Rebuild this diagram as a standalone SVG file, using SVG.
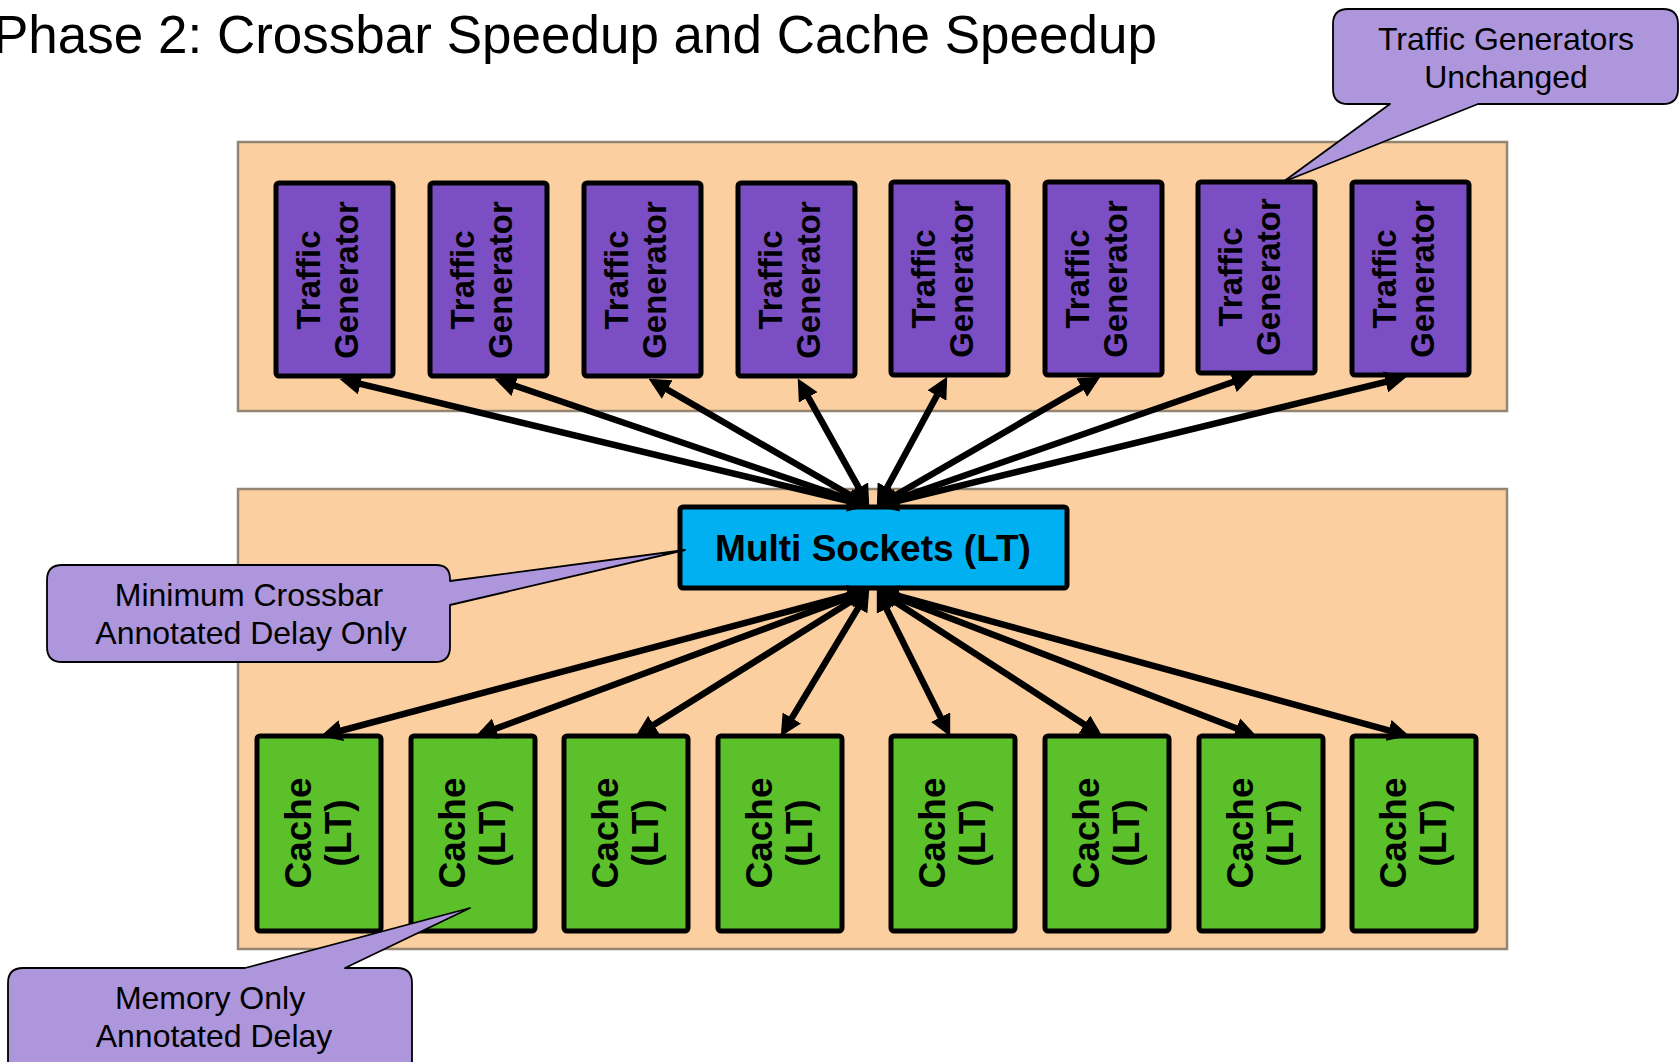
<svg xmlns="http://www.w3.org/2000/svg" width="1679" height="1062" viewBox="0 0 1679 1062">
  <defs>
    <marker id="head" viewBox="0 0 10 10" refX="7.0" refY="5" markerWidth="3.3" markerHeight="3.3" markerUnits="strokeWidth" orient="auto-start-reverse">
      <path d="M0,0 L10,5 L0,10 Z" fill="#000"/>
    </marker>
  </defs>
  <style>
    .title { font-family: "Liberation Sans", Arial, sans-serif; font-size: 53px; fill: #000; }
    .panel { fill: #FBCFA0; stroke: #948472; stroke-width: 2.5; }
    .tg rect { fill: #7B4FC3; stroke: #000; stroke-width: 5; }
    .cache rect { fill: #5BC02A; stroke: #000; stroke-width: 5; }
    .hub rect { fill: #00B0F0; stroke: #000; stroke-width: 5; }
    .lbl { font-family: "Liberation Sans", Arial, sans-serif; font-weight: bold; fill: #000; text-anchor: middle; }
    .tg .lbl { font-size: 33px; }
    .cache .lbl { font-size: 37px; }
    .hub .lbl { font-size: 37px; }
    .links line { stroke: #000; stroke-width: 6.5; marker-start: url(#head); marker-end: url(#head); }
    .note path { fill: #AD96DC; stroke: #000; stroke-width: 1.8; stroke-linejoin: round; }
    .note text { font-family: "Liberation Sans", Arial, sans-serif; font-size: 32px; fill: #000; text-anchor: middle; }
  </style>

  <rect width="1679" height="1062" fill="#fff"/>

  <text class="title" x="-7" y="53">Phase 2: Crossbar Speedup and Cache Speedup</text>

  <!-- background panels -->
  <rect class="panel" x="238" y="142" width="1269" height="269"/>
  <rect class="panel" x="238" y="489" width="1269" height="460"/>

  <!-- traffic generators -->
  <g id="tg1" class="tg"><rect x="276" y="183" width="117" height="193" rx="3"/>
    <text class="lbl" transform="translate(334.5,280) rotate(-90)"><tspan x="0" y="-15">Traffic</tspan><tspan x="0" y="23">Generator</tspan></text></g>
  <g id="tg2" class="tg"><rect x="430" y="183" width="117" height="193" rx="3"/>
    <text class="lbl" transform="translate(488.5,280) rotate(-90)"><tspan x="0" y="-15">Traffic</tspan><tspan x="0" y="23">Generator</tspan></text></g>
  <g id="tg3" class="tg"><rect x="584" y="183" width="117" height="193" rx="3"/>
    <text class="lbl" transform="translate(642.5,280) rotate(-90)"><tspan x="0" y="-15">Traffic</tspan><tspan x="0" y="23">Generator</tspan></text></g>
  <g id="tg4" class="tg"><rect x="738" y="183" width="117" height="193" rx="3"/>
    <text class="lbl" transform="translate(796.5,280) rotate(-90)"><tspan x="0" y="-15">Traffic</tspan><tspan x="0" y="23">Generator</tspan></text></g>
  <g id="tg5" class="tg"><rect x="891" y="182" width="117" height="193" rx="3"/>
    <text class="lbl" transform="translate(949.5,279) rotate(-90)"><tspan x="0" y="-15">Traffic</tspan><tspan x="0" y="23">Generator</tspan></text></g>
  <g id="tg6" class="tg"><rect x="1045" y="182" width="117" height="193" rx="3"/>
    <text class="lbl" transform="translate(1103.5,279) rotate(-90)"><tspan x="0" y="-15">Traffic</tspan><tspan x="0" y="23">Generator</tspan></text></g>
  <g id="tg7" class="tg"><rect x="1198" y="182" width="117" height="191" rx="3"/>
    <text class="lbl" transform="translate(1256.5,277) rotate(-90)"><tspan x="0" y="-15">Traffic</tspan><tspan x="0" y="23">Generator</tspan></text></g>
  <g id="tg8" class="tg"><rect x="1352" y="182" width="117" height="193" rx="3"/>
    <text class="lbl" transform="translate(1410.5,279) rotate(-90)"><tspan x="0" y="-15">Traffic</tspan><tspan x="0" y="23">Generator</tspan></text></g>

  <!-- crossbar -->
  <g id="hub" class="hub"><rect x="680" y="507" width="387" height="81" rx="3"/>
    <text class="lbl" x="873" y="561">Multi Sockets (LT)</text></g>

  <!-- caches -->
  <g id="cache1" class="cache"><rect x="257" y="736" width="124" height="195" rx="3"/>
    <text class="lbl" transform="translate(319,833) rotate(-90)"><tspan x="0" y="-8">Cache</tspan><tspan x="0" y="31.5">(LT)</tspan></text></g>
  <g id="cache2" class="cache"><rect x="411" y="736" width="124" height="195" rx="3"/>
    <text class="lbl" transform="translate(473,833) rotate(-90)"><tspan x="0" y="-8">Cache</tspan><tspan x="0" y="31.5">(LT)</tspan></text></g>
  <g id="cache3" class="cache"><rect x="564" y="736" width="124" height="195" rx="3"/>
    <text class="lbl" transform="translate(626,833) rotate(-90)"><tspan x="0" y="-8">Cache</tspan><tspan x="0" y="31.5">(LT)</tspan></text></g>
  <g id="cache4" class="cache"><rect x="718" y="736" width="124" height="195" rx="3"/>
    <text class="lbl" transform="translate(780,833) rotate(-90)"><tspan x="0" y="-8">Cache</tspan><tspan x="0" y="31.5">(LT)</tspan></text></g>
  <g id="cache5" class="cache"><rect x="891" y="736" width="124" height="195" rx="3"/>
    <text class="lbl" transform="translate(953,833) rotate(-90)"><tspan x="0" y="-8">Cache</tspan><tspan x="0" y="31.5">(LT)</tspan></text></g>
  <g id="cache6" class="cache"><rect x="1045" y="736" width="124" height="195" rx="3"/>
    <text class="lbl" transform="translate(1107,833) rotate(-90)"><tspan x="0" y="-8">Cache</tspan><tspan x="0" y="31.5">(LT)</tspan></text></g>
  <g id="cache7" class="cache"><rect x="1199" y="736" width="124" height="195" rx="3"/>
    <text class="lbl" transform="translate(1261,833) rotate(-90)"><tspan x="0" y="-8">Cache</tspan><tspan x="0" y="31.5">(LT)</tspan></text></g>
  <g id="cache8" class="cache"><rect x="1352" y="736" width="124" height="195" rx="3"/>
    <text class="lbl" transform="translate(1414,833) rotate(-90)"><tspan x="0" y="-8">Cache</tspan><tspan x="0" y="31.5">(LT)</tspan></text></g>

  <!-- two-way links: hub to generators, hub to caches -->
  <g id="links" class="links">
    <line x1="863.2" y1="504.6" x2="345.8" y2="380.4"/>
    <line x1="863.3" y1="504.1" x2="500.7" y2="380.9"/>
    <line x1="863.8" y1="503.0" x2="654.2" y2="382.0"/>
    <line x1="866.1" y1="500.8" x2="800.9" y2="384.2"/>
    <line x1="879.9" y1="500.7" x2="944.1" y2="382.3"/>
    <line x1="882.2" y1="503.0" x2="1094.8" y2="380.0"/>
    <line x1="882.7" y1="504.0" x2="1247.3" y2="377.0"/>
    <line x1="882.8" y1="504.6" x2="1400.2" y2="378.4"/>

    <line x1="863.2" y1="591.5" x2="326.8" y2="734.5"/>
    <line x1="863.4" y1="592.1" x2="481.6" y2="733.9"/>
    <line x1="863.9" y1="593.2" x2="641.1" y2="732.8"/>
    <line x1="865.9" y1="595.1" x2="784.1" y2="730.9"/>
    <line x1="879.7" y1="595.4" x2="947.3" y2="730.6"/>
    <line x1="882.0" y1="593.3" x2="1097.0" y2="732.7"/>
    <line x1="882.6" y1="592.2" x2="1250.4" y2="733.8"/>
    <line x1="882.8" y1="591.6" x2="1403.2" y2="734.4"/>
  </g>

  <!-- callouts -->
  <g id="note-generators" class="note">
    <path d="M1348,9 H1663 Q1678,9 1678,24 V89 Q1678,104 1663,104 H1478 L1283,182 L1390,104 H1348 Q1333,104 1333,89 V24 Q1333,9 1348,9 Z"/>
    <text x="1506" y="50">Traffic Generators</text>
    <text x="1506" y="88">Unchanged</text>
  </g>
  <g id="note-crossbar" class="note">
    <path d="M62,565 H436 Q450,565 450,579 V581 L685,550 L450,605 V647 Q450,662 435,662 H62 Q47,662 47,647 V580 Q47,565 62,565 Z"/>
    <text x="249" y="606">Minimum Crossbar</text>
    <text x="251" y="644">Annotated Delay Only</text>
  </g>
  <g id="note-memory" class="note">
    <path d="M23,968 H245 L470,908 L345,968 H397 Q412,968 412,983 V1080 H8 V983 Q8,968 23,968 Z"/>
    <text x="210" y="1009">Memory Only</text>
    <text x="214" y="1047">Annotated Delay</text>
  </g>
</svg>
